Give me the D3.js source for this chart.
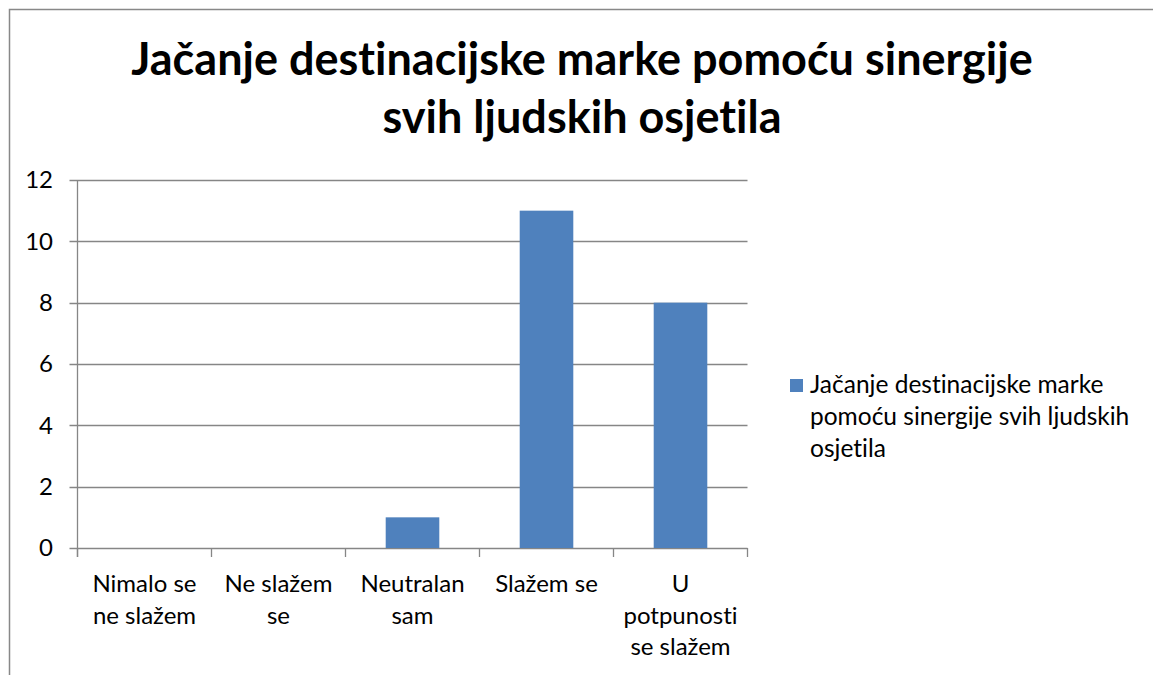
<!DOCTYPE html>
<html>
<head>
<meta charset="utf-8">
<script src="https://cdn.jsdelivr.net/npm/d3@7"></script>
<style>
  body { margin: 0; background: #fff; }
  text { font-family: Lato, "Open Sans", sans-serif; fill: #000; font-variant-ligatures: none; }
</style>
</head>
<body>
<div id="chart"></div>
<script>
// data
var categories = ["Nimalo se ne slažem", "Ne slažem se", "Neutralan sam", "Slažem se", "U potpunosti se slažem"];
var categoryLines = [["Nimalo se", "ne slažem"], ["Ne slažem", "se"], ["Neutralan", "sam"], ["Slažem se"], ["U", "potpunosti", "se slažem"]];
var values = [0, 0, 1, 11, 8];
var yTicks = [0, 2, 4, 6, 8, 10, 12];
var titleLines = ["Jačanje destinacijske marke pomoću sinergije", "svih ljudskih osjetila"];
var seriesName = "Jačanje destinacijske marke pomoću sinergije svih ljudskih osjetila";
var legendLines = ["Jačanje destinacijske marke", "pomoću sinergije svih ljudskih", "osjetila"];

var W = 1153, H = 675;
var plotLeft = 77.5, plotRight = 747.5, plotTop = 180, plotBottom = 548;
var gridColor = "#868686", barColor = "#4f81bd";

var svg = d3.select("#chart").append("svg")
    .attr("width", W)
    .attr("height", H);

// outer frame (runs off the right and bottom edge)
svg.append("path")
    .attr("d", "M9.5," + (H + 5) + "V9.5H" + (W + 5))
    .attr("fill", "none")
    .attr("stroke", "#888")
    .attr("stroke-width", 1.5);

// title
var title = svg.append("text")
    .attr("text-anchor", "middle")
    .style("font-weight", "bold")
    .style("font-size", "45px");
title.selectAll("tspan")
    .data(titleLines)
  .enter().append("tspan")
    .attr("x", 582)
    .attr("y", function(d, i) { return 75 + i * 58; })
    .text(function(d) { return d; });

// scales
var x = d3.scaleBand()
    .domain(categories)
    .range([plotLeft, plotRight])
    .paddingInner(0.6)
    .paddingOuter(0.3);

var y = d3.scaleLinear()
    .domain([0, 12])
    .range([plotBottom, plotTop]);

// gridlines + y ticks
svg.append("g")
    .selectAll("line")
    .data(yTicks)
  .enter().append("line")
    .attr("x1", plotLeft - 8)
    .attr("x2", plotRight)
    .attr("y1", function(d) { return Math.round(y(d)) + 0.5; })
    .attr("y2", function(d) { return Math.round(y(d)) + 0.5; })
    .attr("stroke", gridColor)
    .attr("stroke-width", 1.3);

svg.append("g")
    .selectAll("text")
    .data(yTicks)
  .enter().append("text")
    .attr("x", 53)
    .attr("y", function(d) { return y(d); })
    .attr("dy", "0.35em")
    .attr("text-anchor", "end")
    .style("font-size", "24px")
    .text(function(d) { return d; });

// bars
svg.append("g")
    .selectAll("rect")
    .data(values)
  .enter().append("rect")
    .attr("x", function(d, i) { return x(categories[i]); })
    .attr("y", function(d) { return y(d); })
    .attr("width", x.bandwidth())
    .attr("height", function(d) { return y(0) - y(d); })
    .attr("fill", barColor);

// y axis line
svg.append("line")
    .attr("x1", plotLeft).attr("x2", plotLeft)
    .attr("y1", plotTop).attr("y2", plotBottom + 9)
    .attr("stroke", gridColor)
    .attr("stroke-width", 1.3);

// x axis category ticks at band boundaries
var step = x.step();
var bounds = d3.range(categories.length + 1).map(function(i) { return plotLeft + i * step; });
svg.append("g")
    .selectAll("line")
    .data(bounds)
  .enter().append("line")
    .attr("x1", function(d) { return d; })
    .attr("x2", function(d) { return d; })
    .attr("y1", plotBottom)
    .attr("y2", plotBottom + 9)
    .attr("stroke", gridColor)
    .attr("stroke-width", 1.3);

// category labels
var catLabels = svg.append("g")
    .selectAll("text")
    .data(categoryLines)
  .enter().append("text")
    .attr("text-anchor", "middle")
    .style("font-size", "24px");
catLabels.selectAll("tspan")
    .data(function(d, i) { return d.map(function(t) { return { t: t, c: categories[i] }; }); })
  .enter().append("tspan")
    .attr("x", function(d) { return x(d.c) + x.bandwidth() / 2; })
    .attr("y", function(d, j) { return 592 + j * 31.5; })
    .text(function(d) { return d.t; });

// legend
var legend = svg.append("g");
legend.append("rect")
    .attr("x", 790)
    .attr("y", 379)
    .attr("width", 13)
    .attr("height", 13)
    .attr("fill", barColor);
var legendText = legend.append("text")
    .style("font-size", "24.5px");
legendText.append("title").text(seriesName);
legendText.selectAll("tspan")
    .data(legendLines)
  .enter().append("tspan")
    .attr("x", 810)
    .attr("y", function(d, i) { return 393 + i * 32; })
    .text(function(d) { return d; });
</script>
</body>
</html>
